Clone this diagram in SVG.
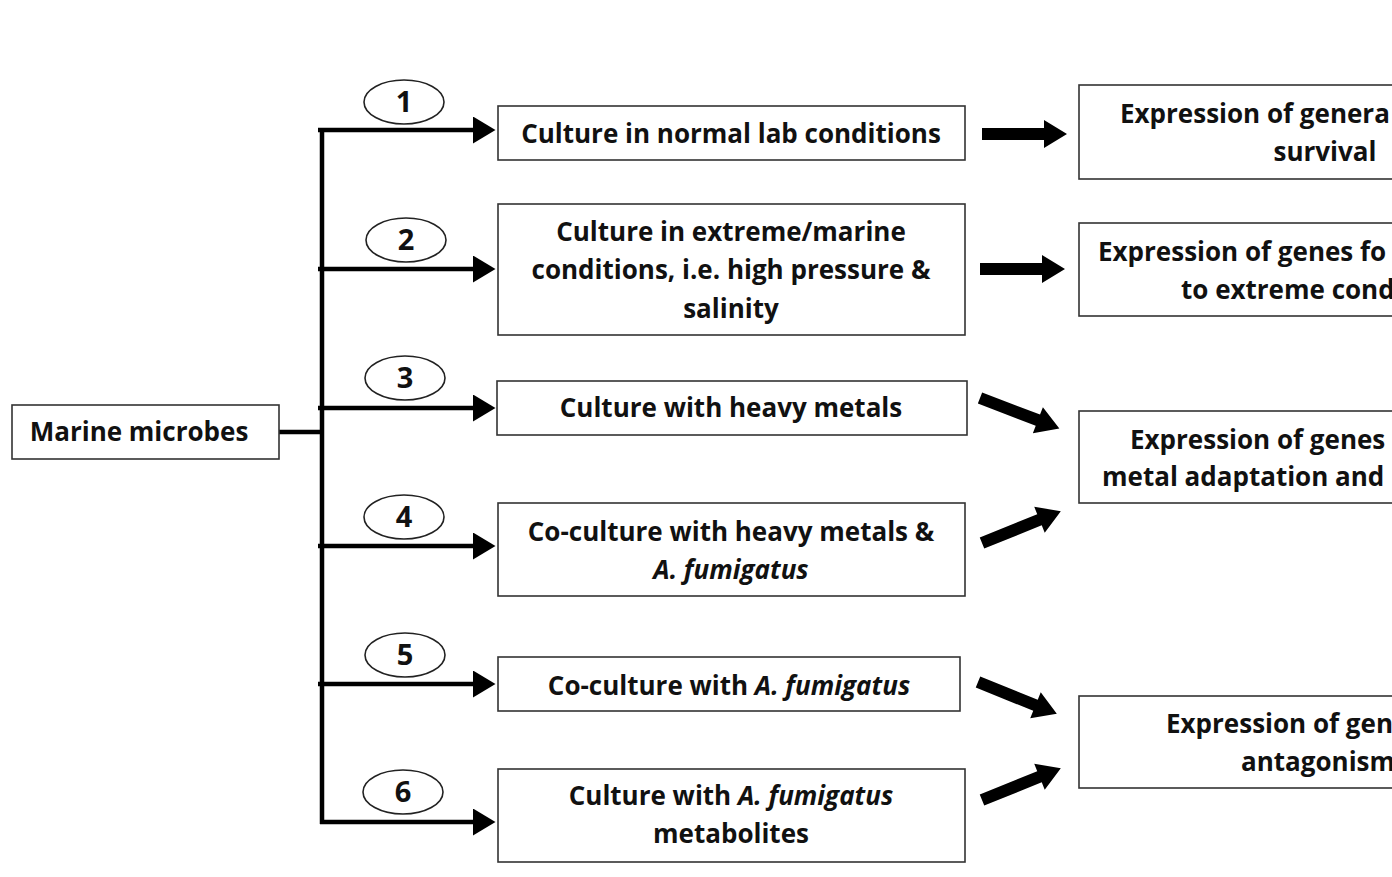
<svg xmlns="http://www.w3.org/2000/svg" xmlns:xlink="http://www.w3.org/1999/xlink" width="1392" height="877" viewBox="0 0 1392 877">
<style>
.box{fill:#fff;stroke:#333;stroke-width:1.6}
.t{font-family:"Open Sans","Noto Sans","Liberation Sans",sans-serif;font-weight:bold;font-size:26px;fill:#111;text-anchor:middle}
.ts{font-family:"Open Sans","Noto Sans","Liberation Sans",sans-serif;font-weight:bold;font-size:26px;fill:#111;text-anchor:start}
.num{font-family:"Open Sans","Noto Sans","Liberation Sans",sans-serif;font-weight:bold;font-size:29px;fill:#111;text-anchor:middle}
.ell{fill:#fff;stroke:#222;stroke-width:1.6}
.ln{stroke:#000;stroke-width:4.5;fill:none}
.br{stroke:#000;stroke-width:4.5;fill:none;marker-end:url(#ah)}
</style>
<defs>
<marker id="ah" markerWidth="5" markerHeight="6" refX="0" refY="3" orient="auto" markerUnits="strokeWidth" viewBox="0 0 5 6">
<path d="M0,0 L5,3 L0,6 Z" fill="#000"/>
</marker>
<path id="blk" d="M0,-6 L62,-6 L62,-14 L85,0 L62,14 L62,6 L0,6 Z" fill="#000"/>
</defs>
<rect width="1392" height="877" fill="#fff"/>

<g id="connectors">
<line class="ln" x1="279" y1="432" x2="322" y2="432"/>
<line class="ln" x1="322" y1="128" x2="322" y2="824"/>
<line class="br" x1="318" y1="130" x2="473" y2="130"/>
<line class="br" x1="318" y1="269" x2="473" y2="269"/>
<line class="br" x1="318" y1="408" x2="473" y2="408"/>
<line class="br" x1="318" y1="546" x2="473" y2="546"/>
<line class="br" x1="318" y1="684" x2="473" y2="684"/>
<line class="br" x1="320" y1="822" x2="473" y2="822"/>
<use xlink:href="#blk" transform="translate(982,134)"/>
<use xlink:href="#blk" transform="translate(980,269)"/>
<use xlink:href="#blk" transform="translate(980,398) rotate(21)"/>
<use xlink:href="#blk" transform="translate(982,543) rotate(-22)"/>
<use xlink:href="#blk" transform="translate(978,682) rotate(22)"/>
<use xlink:href="#blk" transform="translate(982,800) rotate(-22)"/>
</g>

<g id="marine">
<rect class="box" x="12" y="405" width="267" height="54"/>
<text class="t" x="139" y="441">Marine microbes</text>
</g>

<g id="lbl1"><ellipse class="ell" cx="404" cy="102" rx="40" ry="22"/><text class="num" x="404" y="112">1</text></g>
<g id="lbl2"><ellipse class="ell" cx="406" cy="240" rx="40" ry="22"/><text class="num" x="406" y="250">2</text></g>
<g id="lbl3"><ellipse class="ell" cx="405" cy="378" rx="40" ry="22"/><text class="num" x="405" y="388">3</text></g>
<g id="lbl4"><ellipse class="ell" cx="404" cy="517" rx="40" ry="22"/><text class="num" x="404" y="527">4</text></g>
<g id="lbl5"><ellipse class="ell" cx="405" cy="655" rx="40" ry="22"/><text class="num" x="405" y="665">5</text></g>
<g id="lbl6"><ellipse class="ell" cx="403" cy="792" rx="40" ry="22"/><text class="num" x="403" y="802">6</text></g>

<g id="c1">
<rect class="box" x="498" y="106" width="467" height="54"/>
<text class="t" x="731" y="143">Culture in normal lab conditions</text>
</g>
<g id="c2">
<rect class="box" x="498" y="204" width="467" height="131"/>
<text class="t" x="731" y="241">Culture in extreme/marine</text>
<text class="t" x="731" y="279">conditions, i.e. high pressure &amp;</text>
<text class="t" x="731" y="318">salinity</text>
</g>
<g id="c3">
<rect class="box" x="497" y="381" width="470" height="54"/>
<text class="t" x="731" y="417">Culture with heavy metals</text>
</g>
<g id="c4">
<rect class="box" x="498" y="503" width="467" height="93"/>
<text class="t" x="731" y="541">Co-culture with heavy metals &amp;</text>
<text class="t" x="731" y="579" font-style="italic">A. fumigatus</text>
</g>
<g id="c5">
<rect class="box" x="498" y="657" width="462" height="54"/>
<text class="t" x="729" y="695">Co-culture with <tspan font-style="italic">A. fumigatus</tspan></text>
</g>
<g id="c6">
<rect class="box" x="498" y="769" width="467" height="93"/>
<text class="t" x="731" y="805">Culture with <tspan font-style="italic">A. fumigatus</tspan></text>
<text class="t" x="731" y="843">metabolites</text>
</g>

<g id="r1">
<rect class="box" x="1079" y="85" width="340" height="94"/>
<text class="ts" x="1120" y="123">Expression of genera</text>
<text class="t" x="1325" y="161">survival</text>
</g>
<g id="r2">
<rect class="box" x="1079" y="223" width="340" height="93"/>
<text class="ts" x="1098" y="261">Expression of genes fo</text>
<text class="ts" x="1181" y="299">to extreme cond</text>
</g>
<g id="r3">
<rect class="box" x="1079" y="411" width="340" height="92"/>
<text class="ts" x="1130" y="449">Expression of genes</text>
<text class="ts" x="1102" y="486">metal adaptation and</text>
</g>
<g id="r4">
<rect class="box" x="1079" y="696" width="340" height="92"/>
<text class="ts" x="1166" y="733">Expression of gen</text>
<text class="ts" x="1241" y="771">antagonism</text>
</g>
</svg>
